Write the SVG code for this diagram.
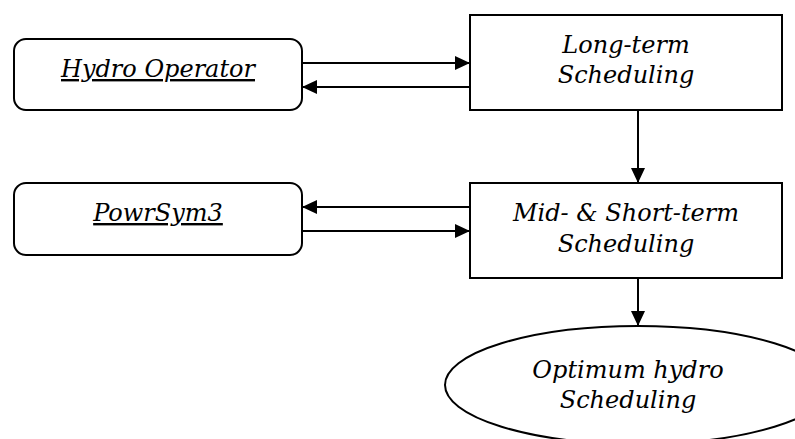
<svg xmlns="http://www.w3.org/2000/svg" width="795" height="439" viewBox="0 0 795 439">
  <style>
    .box { fill: #ffffff; stroke: #000000; stroke-width: 2; }
    .lbl { font-family: "DejaVu Serif", "Liberation Serif", serif; font-style: italic; font-size: 24px; fill: #000000; text-anchor: middle; }
    .ul { text-decoration: underline; }
    .edge { fill: none; stroke: #000000; stroke-width: 2; marker-end: url(#head); }
  </style>
  <defs>
    <marker id="head" markerUnits="userSpaceOnUse" markerWidth="16" markerHeight="16" viewBox="0 0 16 16" refX="15" refY="8" orient="auto">
      <path d="M0,1 L15,8 L0,15 Z" fill="#000000"/>
    </marker>
  </defs>
  <rect width="795" height="439" fill="#ffffff"/>

  <g id="hydro-operator">
    <rect class="box" x="14" y="39" width="288" height="71" rx="12" ry="12"/>
    <text class="lbl ul" x="158" y="77">Hydro Operator</text>
  </g>

  <g id="powrsym3">
    <rect class="box" x="14" y="183" width="288" height="72" rx="12" ry="12"/>
    <text class="lbl ul" x="158" y="221">PowrSym3</text>
  </g>

  <g id="long-term">
    <rect class="box" x="470" y="15" width="312" height="95"/>
    <text class="lbl" x="626" y="53">Long-term</text>
    <text class="lbl" x="626" y="83">Scheduling</text>
  </g>

  <g id="mid-short-term">
    <rect class="box" x="470" y="183" width="312" height="95"/>
    <text class="lbl" x="626" y="221">Mid- &amp; Short-term</text>
    <text class="lbl" x="626" y="252">Scheduling</text>
  </g>

  <g id="optimum">
    <ellipse class="box" cx="638" cy="385" rx="193" ry="59"/>
    <text class="lbl" x="628" y="378">Optimum hydro</text>
    <text class="lbl" x="628" y="408">Scheduling</text>
  </g>

  <g id="connectors">
    <line class="edge" x1="302" y1="63" x2="470" y2="63"/>
    <line class="edge" x1="470" y1="87" x2="302" y2="87"/>
    <line class="edge" x1="470" y1="207" x2="302" y2="207"/>
    <line class="edge" x1="302" y1="231" x2="470" y2="231"/>
    <line class="edge" x1="638" y1="110" x2="638" y2="183"/>
    <line class="edge" x1="638" y1="278" x2="638" y2="326"/>
  </g>
</svg>
